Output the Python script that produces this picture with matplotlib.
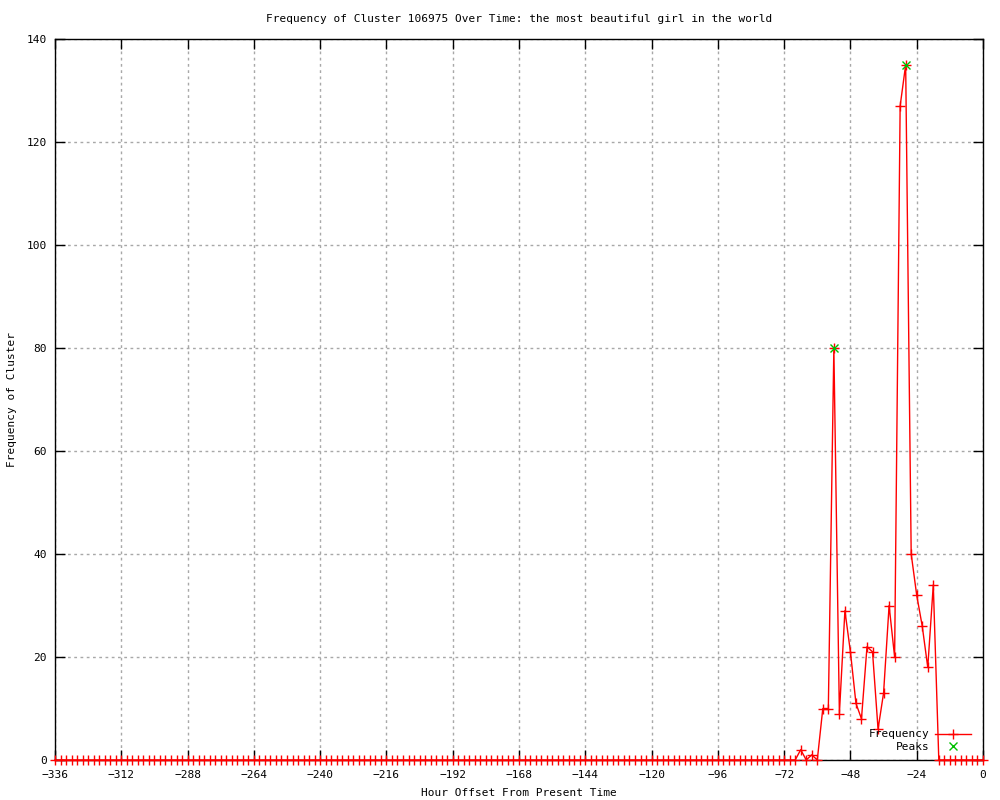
import numpy as np
import matplotlib
matplotlib.use('Agg')
import matplotlib.pyplot as plt
import matplotlib.ticker as ticker

# hour offsets, every 2 hours over two weeks
hours = np.arange(-336, 2, 2)

# frequency at each offset
freq_quiet = [0, 0, 0, 0, 0, 0, 0, 0, 0, 0, 0, 0, 0, 0, 0, 0, 0, 0, 0, 0,
              0, 0, 0, 0, 0, 0, 0, 0, 0, 0, 0, 0, 0, 0, 0, 0, 0, 0, 0, 0,
              0, 0, 0, 0, 0, 0, 0, 0, 0, 0, 0, 0, 0, 0, 0, 0, 0, 0, 0, 0,
              0, 0, 0, 0, 0, 0, 0, 0, 0, 0, 0, 0, 0, 0, 0, 0, 0, 0, 0, 0,
              0, 0, 0, 0, 0, 0, 0, 0, 0, 0, 0, 0, 0, 0, 0, 0, 0, 0, 0, 0,
              0, 0, 0, 0, 0, 0, 0, 0, 0, 0, 0, 0, 0, 0, 0, 0, 0, 0, 0, 0,
              0, 0, 0, 0, 0, 0, 0, 0, 0, 0, 0, 0, 0, 0, 0]   # -336 .. -68
freq_active = [2, 0, 1, 0, 10, 10, 80, 9, 29, 21, 11, 8, 22, 21, 6, 13,
               30, 20, 127, 135, 40, 32, 26, 18, 34]          # -66 .. -18
freq_tail = [0, 0, 0, 0, 0, 0, 0, 0, 0]                      # -16 .. 0
freq = np.array(freq_quiet + freq_active + freq_tail)

peak_hours = [-54, -28]
peak_vals = [80, 135]

title = 'Frequency of Cluster 106975 Over Time: the most beautiful girl in the world'

plt.rcParams['font.family'] = 'DejaVu Sans Mono'
plt.rcParams['font.size'] = 8

fig = plt.figure(figsize=(10, 8), dpi=100)
ax = fig.add_axes([0.055, 0.05, 0.928, 0.9012])

ax.plot(hours, freq, color='red', lw=1, marker='+', ms=7, mew=1,
        label='Frequency', clip_on=False, zorder=3)
ax.plot(peak_hours, peak_vals, ls='none', color='#00c000', marker='x',
        ms=6, mew=1, label='Peaks', zorder=4)

ax.set_xlim(-336, 0)
ax.set_ylim(0, 140)
ax.xaxis.set_major_locator(ticker.MultipleLocator(24))
ax.yaxis.set_major_locator(ticker.MultipleLocator(20))
ax.tick_params(direction='in', length=7, width=1, top=True, right=True,
               colors='black')
ax.tick_params(axis='x', pad=7)
ax.tick_params(axis='y', pad=6)
ax.grid(True, color='#a8a8a8', ls=(0, (2, 2.5)), lw=1)
ax.set_axisbelow(True)
for s in ax.spines.values():
    s.set_linewidth(1)

ax.set_title(title, pad=12, fontsize=8)
ax.set_xlabel('Hour Offset From Present Time', labelpad=6)
ax.set_ylabel('Frequency of Cluster', labelpad=7)

ax.legend(loc='lower right', bbox_to_anchor=(0.995, 0.0), frameon=False,
          markerfirst=False, handlelength=3.2, handletextpad=0.5,
          labelspacing=0.25, borderaxespad=0.3)

fig.savefig('out.png', dpi=100)
